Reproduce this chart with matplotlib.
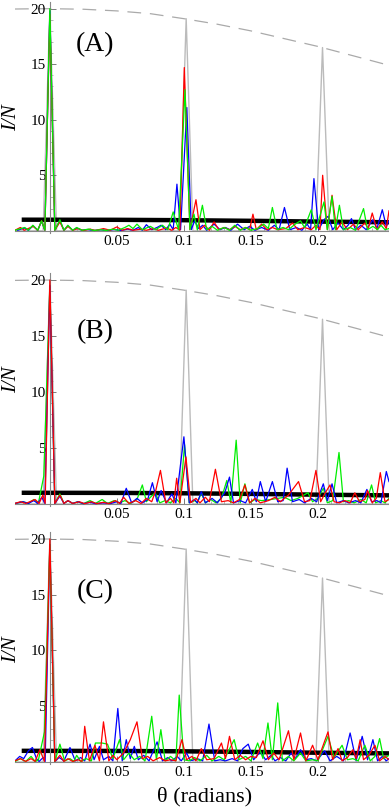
import numpy as np
import matplotlib.pyplot as plt

plt.rcParams['font.family'] = ['Liberation Serif', 'DejaVu Serif']

# ideal pattern (gray) and its envelope
gray_t = [-0.026, -0.005, 0.0, 0.005, 0.0967, 0.1017, 0.1067, 0.1984, 0.2034, 0.2084, 0.253]
gray_v = [0.0, 0.0, 20.0, 0.0, 0.0, 19.1, 0.0, 0.0, 16.5, 0.0, 0.0]
env_t = [-0.026, -0.013, 0.0, 0.025, 0.05, 0.075, 0.1, 0.125, 0.15, 0.175, 0.2, 0.225, 0.253]
env_v = [19.97, 19.99, 20.0, 19.95, 19.8, 19.55, 19.1, 18.6, 18.0, 17.3, 16.6, 15.8, 14.9]
# mean level (thick black)
mean_t = [-0.021, 0.05, 0.1, 0.15, 0.2, 0.253]
mean_v = [1.0, 0.99, 0.955, 0.90, 0.83, 0.77]

# panel A
A_blue = [(-0.024,0.05),(-0.019,0.25),(-0.016,0.05),(-0.0125,0.45),(-0.009,0.05),(-0.0062,0.85),(-0.0037,0.05),(0,19.8),(0.0037,0.05),(0.0075,0.9),(0.0105,0.05),(0.0135,0.45),(0.017,0.05),(0.020,0.25),(0.024,0.05),(0.028,0.12),(0.033,0.03),(0.038,0.1),(0.043,0.03),(0.048,0.12),(0.053,0.03),(0.058,0.15),(0.062,0.05),(0.066,0.3),(0.069,0.05),(0.072,0.55),(0.076,0.1),(0.080,0.3),(0.083,0.5),(0.0865,0.1),(0.0895,0.6),(0.092,0.1),(0.0948,4.2),(0.0975,0.1),(0.1022,11.1),(0.1055,0.1),(0.108,0.9),(0.111,0.2),(0.114,0.5),(0.117,0.05),(0.1225,0.6),(0.127,0.1),(0.131,0.3),(0.135,0.05),(0.14,0.6),(0.145,0.1),(0.149,0.4),(0.153,0.05),(0.158,0.3),(0.163,0.05),(0.1675,0.5),(0.171,0.1),(0.175,2.1),(0.179,0.1),(0.184,0.3),(0.188,0.05),(0.192,0.6),(0.1945,0.1),(0.197,4.7),(0.2005,0.1),(0.2045,1.0),(0.2075,1.3),(0.211,0.1),(0.215,0.7),(0.219,0.1),(0.2225,0.5),(0.225,1.1),(0.228,0.1),(0.232,0.5),(0.236,0.1),(0.241,1.0),(0.244,0.2),(0.248,1.9),(0.251,0.4),(0.253,0.9)]
A_red = [(-0.026,0.05),(-0.022,0.3),(-0.019,0.05),(-0.0125,0.4),(-0.009,0.05),(-0.0062,0.9),(-0.0037,0.05),(0,19.5),(0.0037,0.05),(0.0075,0.8),(0.0105,0.05),(0.0135,0.4),(0.017,0.05),(0.021,0.2),(0.025,0.03),(0.03,0.15),(0.034,0.03),(0.04,0.2),(0.045,0.05),(0.05,0.35),(0.054,0.05),(0.058,0.2),(0.062,0.05),(0.068,0.15),(0.072,0.05),(0.077,0.2),(0.081,0.05),(0.087,0.25),(0.091,0.05),(0.094,0.3),(0.097,0.05),(0.1003,14.7),(0.1045,0.1),(0.109,2.8),(0.112,0.1),(0.1155,0.5),(0.119,0.05),(0.1225,0.8),(0.126,0.1),(0.13,0.3),(0.134,0.1),(0.138,0.4),(0.142,0.1),(0.146,0.3),(0.149,0.1),(0.1515,1.5),(0.154,0.1),(0.158,0.6),(0.162,0.1),(0.166,0.3),(0.17,0.1),(0.176,0.2),(0.181,0.7),(0.185,0.1),(0.19,0.3),(0.195,0.1),(0.1985,0.5),(0.2015,0.1),(0.2035,5.0),(0.207,0.1),(0.2105,3.2),(0.214,0.1),(0.218,0.8),(0.222,0.1),(0.2265,0.6),(0.23,0.1),(0.235,0.7),(0.2375,0.2),(0.2405,1.6),(0.244,0.1),(0.248,0.8),(0.251,0.2),(0.253,1.8)]
A_green = [(-0.026,0.05),(-0.0187,0.3),(-0.016,0.05),(-0.0127,0.5),(-0.009,0.05),(-0.0062,0.9),(-0.0037,0.05),(0,20),(0.0037,0.05),(0.0075,1.0),(0.0105,0.05),(0.0134,0.5),(0.017,0.05),(0.020,0.3),(0.024,0.05),(0.029,0.15),(0.033,0.03),(0.038,0.1),(0.042,0.03),(0.047,0.15),(0.051,0.05),(0.056,0.3),(0.059,0.5),(0.062,0.2),(0.065,0.6),(0.069,0.1),(0.075,0.4),(0.079,0.1),(0.084,0.5),(0.088,0.1),(0.092,1.7),(0.096,0.1),(0.1008,12.7),(0.1045,0.1),(0.1075,1.5),(0.110,0.1),(0.1138,2.3),(0.117,0.1),(0.121,0.4),(0.125,0.05),(0.13,0.3),(0.134,0.05),(0.138,0.5),(0.142,0.05),(0.146,0.3),(0.150,0.05),(0.155,0.2),(0.1595,0.6),(0.163,0.2),(0.166,2.1),(0.1695,0.1),(0.174,0.3),(0.178,0.1),(0.183,0.6),(0.187,0.9),(0.190,0.3),(0.195,1.9),(0.1985,0.1),(0.2045,2.6),(0.207,0.1),(0.2105,3.1),(0.213,0.1),(0.216,2.3),(0.219,0.1),(0.224,0.3),(0.228,0.05),(0.234,2.0),(0.237,0.1),(0.241,0.4),(0.2445,0.1),(0.247,0.5),(0.25,0.1),(0.253,0.2)]

# panel B
B_blue = [(-0.026,0.05),(-0.02,0.2),(-0.016,0.05),(-0.012,0.3),(-0.009,0.05),(-0.006,0.6),(-0.0037,0.05),(0,19.5),(0.0037,0.05),(0.0075,0.7),(0.0105,0.05),(0.0135,0.3),(0.017,0.05),(0.021,0.2),(0.025,0.03),(0.03,0.15),(0.034,0.03),(0.04,0.1),(0.045,0.03),(0.05,0.2),(0.053,0.05),(0.057,1.4),(0.061,0.1),(0.065,0.5),(0.069,0.1),(0.073,0.4),(0.0765,1.9),(0.08,0.2),(0.083,1.2),(0.087,0.1),(0.091,0.9),(0.094,0.1),(0.1,6.0),(0.104,0.1),(0.108,0.4),(0.110,0.1),(0.113,1.1),(0.116,0.1),(0.121,0.5),(0.125,0.1),(0.1305,1.0),(0.134,2.4),(0.137,0.1),(0.142,0.3),(0.146,0.1),(0.151,1.3),(0.154,0.2),(0.157,2.0),(0.161,0.2),(0.166,2.0),(0.170,0.2),(0.174,0.3),(0.177,3.2),(0.181,0.2),(0.186,0.4),(0.19,0.1),(0.195,0.5),(0.199,0.2),(0.204,1.8),(0.207,0.3),(0.2105,1.8),(0.214,0.1),(0.219,0.3),(0.223,0.1),(0.228,0.3),(0.232,0.1),(0.2365,1.3),(0.240,0.2),(0.244,0.3),(0.247,0.1),(0.251,2.9),(0.253,2.0)]
B_red = [(-0.026,0.05),(-0.022,0.2),(-0.018,0.05),(-0.011,0.4),(-0.008,0.05),(-0.0052,0.8),(-0.0035,0.05),(0,20),(0.0037,0.05),(0.0075,0.8),(0.0105,0.05),(0.0135,0.3),(0.017,0.05),(0.022,0.2),(0.026,0.03),(0.031,0.2),(0.035,0.03),(0.04,0.15),(0.044,0.03),(0.049,0.3),(0.052,0.05),(0.055,0.6),(0.059,0.05),(0.064,0.3),(0.068,0.05),(0.072,0.5),(0.076,0.2),(0.079,1.2),(0.0825,3.0),(0.0865,0.1),(0.09,0.5),(0.0925,0.1),(0.0946,2.3),(0.097,0.1),(0.1015,4.2),(0.105,0.1),(0.109,0.5),(0.112,0.1),(0.116,0.6),(0.119,0.2),(0.1235,3.1),(0.128,0.2),(0.133,0.3),(0.137,0.1),(0.1415,0.4),(0.1455,1.7),(0.149,0.1),(0.153,0.5),(0.157,0.1),(0.163,0.3),(0.168,0.6),(0.172,0.2),(0.178,0.8),(0.1855,2.0),(0.19,0.2),(0.194,0.3),(0.1985,3.0),(0.202,0.2),(0.2055,1.0),(0.209,1.7),(0.212,0.2),(0.216,0.1),(0.22,0.3),(0.224,0.1),(0.2275,1.0),(0.231,0.2),(0.235,0.4),(0.237,1.2),(0.2405,0.1),(0.2435,0.5),(0.2465,2.8),(0.25,0.2),(0.253,0.4)]
B_green = [(-0.026,0.05),(-0.02,0.2),(-0.016,0.05),(-0.012,0.4),(-0.0085,0.1),(-0.0045,2.5),(0,19.5),(0.0037,0.05),(0.0075,0.9),(0.0105,0.05),(0.0135,0.3),(0.017,0.05),(0.021,0.2),(0.025,0.03),(0.03,0.3),(0.034,0.05),(0.039,0.4),(0.043,0.05),(0.048,0.3),(0.052,0.1),(0.056,0.3),(0.06,0.05),(0.065,0.4),(0.069,1.7),(0.072,0.2),(0.075,0.6),(0.0785,1.0),(0.082,0.1),(0.086,0.3),(0.09,0.1),(0.094,0.5),(0.097,0.1),(0.1005,5.3),(0.104,0.1),(0.108,0.3),(0.110,0.1),(0.113,1.0),(0.116,0.1),(0.12,0.4),(0.124,0.1),(0.128,0.5),(0.132,2.1),(0.135,0.1),(0.139,5.7),(0.142,0.1),(0.1455,1.8),(0.149,0.1),(0.153,0.4),(0.158,0.3),(0.165,0.4),(0.175,0.6),(0.18,0.3),(0.185,0.5),(0.1925,1.0),(0.196,0.2),(0.2,0.5),(0.204,1.4),(0.207,0.1),(0.211,0.3),(0.2157,4.6),(0.219,0.2),(0.223,0.3),(0.227,0.1),(0.232,0.4),(0.236,0.1),(0.24,1.7),(0.243,0.1),(0.247,0.3),(0.25,0.1),(0.253,0.5)]

# panel C
C_blue = [(-0.026,0.1),(-0.0225,0.5),(-0.0195,0.3),(-0.016,1.0),(-0.013,1.3),(-0.010,0.3),(-0.008,0.05),(-0.005,0.4),(-0.0035,0.05),(0,19.5),(0.0037,0.05),(0.007,0.4),(0.0105,0.1),(0.015,1.3),(0.019,0.1),(0.023,0.4),(0.026,0.1),(0.030,1.6),(0.033,0.2),(0.037,1.4),(0.04,0.2),(0.044,0.5),(0.047,0.1),(0.0507,4.8),(0.054,0.1),(0.057,2.0),(0.060,0.3),(0.063,1.4),(0.066,0.2),(0.07,0.6),(0.074,0.1),(0.080,1.8),(0.084,0.1),(0.088,0.4),(0.091,0.1),(0.095,0.5),(0.098,0.1),(0.102,0.8),(0.105,0.1),(0.11,0.3),(0.114,0.1),(0.1187,3.4),(0.123,0.1),(0.127,0.2),(0.131,0.1),(0.136,0.3),(0.14,0.1),(0.144,1.2),(0.148,1.6),(0.152,0.2),(0.157,0.9),(0.161,0.2),(0.165,0.6),(0.168,0.1),(0.172,0.4),(0.176,0.1),(0.18,0.8),(0.183,0.3),(0.187,1.1),(0.191,0.2),(0.195,0.3),(0.199,0.1),(0.205,1.0),(0.209,0.1),(0.214,0.5),(0.219,0.1),(0.224,2.6),(0.2285,0.1),(0.233,2.3),(0.237,0.2),(0.241,2.0),(0.2445,0.1),(0.248,0.5),(0.251,0.1),(0.253,0.3)]
C_red = [(-0.026,0.1),(-0.022,0.3),(-0.018,0.05),(-0.014,0.3),(-0.011,0.05),(-0.0075,1.1),(-0.004,0.05),(0,20),(0.0037,0.05),(0.0075,0.6),(0.0105,0.05),(0.0135,0.3),(0.017,0.05),(0.021,0.2),(0.024,0.05),(0.026,3.2),(0.0295,0.1),(0.0336,1.5),(0.037,0.1),(0.040,3.6),(0.044,0.1),(0.047,0.6),(0.05,0.2),(0.055,0.8),(0.06,2.0),(0.065,3.6),(0.069,0.3),(0.073,0.5),(0.077,0.1),(0.082,0.4),(0.086,0.1),(0.09,0.2),(0.094,0.1),(0.0985,2.0),(0.102,0.2),(0.106,0.5),(0.109,0.1),(0.113,1.2),(0.117,0.2),(0.1225,0.3),(0.128,1.7),(0.131,0.3),(0.134,2.3),(0.138,0.2),(0.142,0.6),(0.146,0.2),(0.150,0.5),(0.154,0.4),(0.159,1.9),(0.163,0.2),(0.167,0.8),(0.171,0.2),(0.178,2.8),(0.182,0.2),(0.187,2.6),(0.191,0.1),(0.196,1.5),(0.2,0.2),(0.2075,2.7),(0.211,0.2),(0.215,1.2),(0.218,0.1),(0.222,0.4),(0.226,1.1),(0.2285,0.3),(0.2315,2.0),(0.234,0.2),(0.238,0.6),(0.2425,1.5),(0.246,0.1),(0.25,0.5),(0.253,0.2)]
C_green = [(-0.026,0.05),(-0.022,0.3),(-0.018,0.05),(-0.014,0.5),(-0.011,0.05),(-0.0085,0.2),(-0.004,2.7),(0,19.5),(0.0037,0.05),(0.0075,1.6),(0.011,0.1),(0.015,0.3),(0.018,0.05),(0.020,0.6),(0.023,0.05),(0.027,0.3),(0.031,0.1),(0.034,1.7),(0.039,1.7),(0.043,1.6),(0.047,0.3),(0.052,2.0),(0.055,0.2),(0.059,0.8),(0.063,0.2),(0.067,0.5),(0.071,0.1),(0.076,4.1),(0.0795,0.2),(0.0828,2.9),(0.086,0.1),(0.09,0.5),(0.094,0.1),(0.0965,6.0),(0.1,0.2),(0.104,0.1),(0.108,0.4),(0.112,0.1),(0.117,0.6),(0.121,0.1),(0.126,0.5),(0.13,0.2),(0.1375,2.0),(0.141,0.2),(0.146,0.5),(0.150,0.1),(0.155,1.7),(0.159,0.3),(0.1627,3.5),(0.166,0.2),(0.170,5.3),(0.1735,0.1),(0.178,0.5),(0.182,0.1),(0.187,0.8),(0.191,0.1),(0.196,0.2),(0.2,0.1),(0.2075,2.3),(0.212,0.4),(0.218,1.5),(0.222,0.2),(0.226,0.3),(0.23,0.1),(0.235,1.5),(0.239,0.1),(0.2425,0.5),(0.246,2.1),(0.249,0.3),(0.253,0.6)]

panel_names = ['A', 'B', 'C']
panel_curves = [
    [(A_blue, 'blue'), (A_red, 'red'), (A_green, '#00ee00')],
    [(B_green, '#00ee00'), (B_blue, 'blue'), (B_red, 'red')],
    [(C_blue, 'blue'), (C_green, '#00ee00'), (C_red, 'red')],
]
label_y = [16.8, 15.4, 15.3]
ylab_y = [10.2, 11.1, 10.1]
# axes rectangles [left, bottom, width, height] in figure fraction
rects = [[15/389, 0.7116, 374/389, 0.2859],
         [15/389, 0.3735, 374/389, 0.2882],
         [15/389, 0.0542, 374/389, 0.2870]]

fig = plt.figure(figsize=(3.89, 8.08), dpi=100)

for k in range(3):
    ax = fig.add_axes(rects[k])
    ax.plot(gray_t, gray_v, color='#bbbbbb', lw=1.0, zorder=1)
    ax.plot(env_t, env_v, color='#aaaaaa', lw=0.9, ls=(0, (11, 7)), zorder=1)
    ax.plot(mean_t, mean_v, color='black', lw=3.2, solid_capstyle='butt', zorder=2)
    for pts, col in panel_curves[k]:
        t, v = zip(*pts)
        ax.plot(t, v, color=col, lw=0.9, zorder=3)

    ax.set_xlim(-0.026, 0.253)
    ax.set_ylim(-0.2, 20.6)
    for s in ['top', 'right']:
        ax.spines[s].set_visible(False)
    ax.spines['left'].set_position(('data', 0))
    ax.spines['bottom'].set_position(('data', 0))
    for s in ['left', 'bottom']:
        ax.spines[s].set_color('#888888')
        ax.spines[s].set_linewidth(0.8)

    ax.set_xticks([0.05, 0.1, 0.15, 0.2])
    ax.set_xticklabels(['0.05', '0.1', '0.15', '0.2'])
    ax.set_xticks(np.arange(-0.02, 0.255, 0.01), minor=True)
    ax.set_yticks([5, 10, 15, 20])
    ax.set_yticklabels(['5', '10', '15', '20'])
    ax.set_yticks(np.arange(1, 21, 1), minor=True)
    ax.tick_params(which='major', direction='in', length=4, width=0.6, color='#666666',
                   labelsize=11, pad=3)
    ax.tick_params(which='minor', direction='in', length=2, width=0.5, color='#999999')
    ax.set_facecolor('none')

    ax.text(0.0336, label_y[k], '(' + panel_names[k] + ')', fontsize=20,
            ha='center', va='center')
    ax.text(-0.0285, ylab_y[k], 'I/N', fontsize=15, style='italic', rotation=90,
            ha='center', va='center', clip_on=False)

fig.text(205/389, 1 - 797/808, 'θ (radians)', fontsize=16, ha='center', va='center')

fig.savefig('out.png', dpi=100)
